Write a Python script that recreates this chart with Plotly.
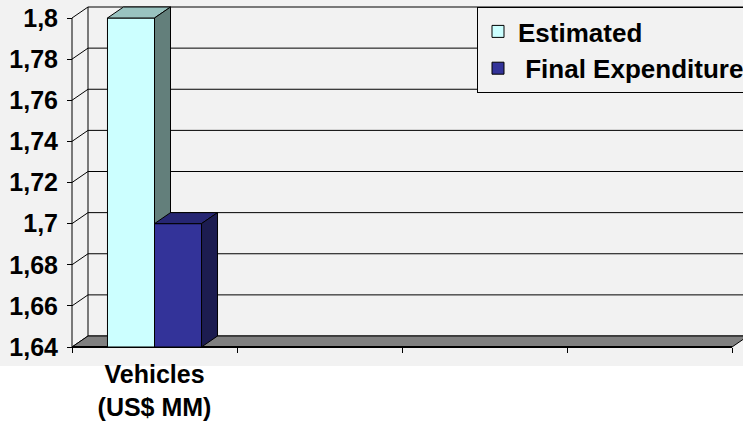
import plotly.graph_objects as go

# ---- data -------------------------------------------------------------
categories = ["Vehicles<br>(US$ MM)", "", "", ""]
series_names = ["Estimated", "\u00a0Final Expenditure"]
estimated = [1.80]
final_expenditure = [1.70]
y_tick_values = [1.64, 1.66, 1.68, 1.70, 1.72, 1.74, 1.76, 1.78, 1.80]
y_tick_labels = ["1,64", "1,66", "1,68", "1,7", "1,72", "1,74", "1,76", "1,78", "1,8"]

# ---- style / geometry ---------------------------------------------------
W, H = 743, 422
FONT = "Liberation Sans"
FLOOR = y_tick_values[0]
CEIL = y_tick_values[-1]

# pixel scale of the value axis and the category axis
X0_PX, FLOOR_PX, CEIL_PX = 72, 347, 18
PX_PER_CAT = 165
px_per_val = (FLOOR_PX - CEIL_PX) / (CEIL - FLOOR)

# plot area in pixels
LEFT_PX, RIGHT_PX, TOP_PX, BOTTOM_PX = 64, W, 3, 352
x_range = [(LEFT_PX - X0_PX) / PX_PER_CAT, (RIGHT_PX - X0_PX) / PX_PER_CAT]
y_range = [FLOOR - (BOTTOM_PX - FLOOR_PX) / px_per_val,
           FLOOR + (FLOOR_PX - TOP_PX) / px_per_val]

# 3-D depth offset (in data units)
DX = 16 / PX_PER_CAT
DY = 11 / px_per_val
BAR_W = 0.285

colors = {
    "Estimated": dict(front="#CCFFFF", top="#99C3C0", side="#637F7B"),
    "Final": dict(front="#333399", top="#262673", side="#1C1C50"),
}
n_cats = len(categories)
centers = [i + 0.5 for i in range(n_cats)]

fig = go.Figure()


def add_bar(name, values, offset, palette, xa, ya, showlegend=True):
    """Front face as a bar, plus its top and side faces as filled polygons."""
    xs = centers[:len(values)]
    fig.add_trace(go.Bar(
        x=xs, y=[v - FLOOR for v in values], base=[FLOOR] * len(values),
        width=[BAR_W] * len(values), offset=[offset] * len(values),
        name=name, showlegend=showlegend,
        marker=dict(color=palette["front"], line=dict(color="black", width=1)),
        xaxis=xa, yaxis=ya,
    ))
    for c, v in zip(xs, values):
        x0 = c + offset
        x1 = x0 + BAR_W
        top = dict(x=[x0, x1, x1 + DX, x0 + DX, x0], y=[v, v, v + DY, v + DY, v])
        side = dict(x=[x1, x1 + DX, x1 + DX, x1, x1],
                    y=[FLOOR, FLOOR + DY, v + DY, v, FLOOR])
        for poly, col in ((top, palette["top"]), (side, palette["side"])):
            fig.add_trace(go.Scatter(
                x=poly["x"], y=poly["y"], mode="lines", fill="toself",
                fillcolor=col, line=dict(color="black", width=1),
                showlegend=False, hoverinfo="skip", xaxis=xa, yaxis=ya,
            ))


add_bar(series_names[0], estimated, -BAR_W, colors["Estimated"], "x", "y")
add_bar(series_names[1], final_expenditure, 0.0, colors["Final"], "x2", "y2")

# ---- walls, floor and back grid --------------------------------------------
shapes = []
# chart area background
shapes.append(dict(type="rect", xref="paper", yref="paper", x0=0, x1=1,
                   y0=(H - 366) / H, y1=1, fillcolor="#F2F2F2",
                   line=dict(width=0), layer="below"))
far = x_range[1] + 1
line = dict(color="black", width=1)
for v in y_tick_values:
    # horizontal grid on the back wall
    shapes.append(dict(type="line", xref="x", yref="y", x0=DX, x1=far,
                       y0=v + DY, y1=v + DY, line=line, layer="below"))
    # diagonal from the front axis to the back wall
    shapes.append(dict(type="line", xref="x", yref="y", x0=0, x1=DX,
                       y0=v, y1=v + DY, line=line, layer="below"))
# back wall left edge
shapes.append(dict(type="line", xref="x", yref="y", x0=DX, x1=DX,
                   y0=FLOOR + DY, y1=CEIL + DY, line=line, layer="below"))
# front value axis line
shapes.append(dict(type="line", xref="x", yref="y", x0=0, x1=0,
                   y0=FLOOR, y1=CEIL, line=line, layer="below"))
# floor
shapes.append(dict(
    type="path", xref="x", yref="y",
    path=(f"M 0,{FLOOR} L {n_cats},{FLOOR} L {n_cats + DX},{FLOOR + DY} "
          f"L {DX},{FLOOR + DY} Z"),
    fillcolor="#808080", line=line, layer="below"))
shapes.append(dict(type="line", xref="x", yref="y", x0=0, x1=n_cats,
                   y0=FLOOR, y1=FLOOR, line=dict(color="black", width=2),
                   layer="below"))

tick_font = dict(family=FONT, size=25, color="black", weight="bold")

fig.update_layout(
    width=W, height=H,
    margin=dict(l=0, r=0, t=0, b=0, autoexpand=False),
    paper_bgcolor="white",
    plot_bgcolor="rgba(0,0,0,0)",
    shapes=shapes,
    barmode="overlay",
    showlegend=True,
    legend=dict(
        x=477 / W, y=1 - 7 / H, xanchor="left", yanchor="top",
        bgcolor="#F2F2F2", bordercolor="black", borderwidth=1,
        font=dict(family=FONT, size=26, color="black", weight="bold"),
        itemclick=False, tracegroupgap=0,
    ),
    xaxis=dict(
        domain=[LEFT_PX / W, RIGHT_PX / W], range=x_range,
        anchor="free", position=(H - FLOOR_PX) / H,
        showgrid=False, zeroline=False, showline=False,
        tickmode="array", tickvals=centers, ticktext=categories, ticks="",
        tickfont=dict(family=FONT, size=25, color="black", weight="bold"),
        ticklabelstandoff=10,
        minor=dict(tickmode="array", tickvals=list(range(n_cats + 1)),
                   ticks="outside", ticklen=5, tickcolor="black", tickwidth=1,
                   showgrid=False),
    ),
    yaxis=dict(
        domain=[(H - BOTTOM_PX) / H, (H - TOP_PX) / H], range=y_range,
        anchor="free", position=X0_PX / W,
        showgrid=False, zeroline=False, showline=False,
        tickmode="array", tickvals=y_tick_values, ticktext=y_tick_labels,
        ticks="outside", ticklen=5, tickcolor="black",
        tickfont=tick_font, ticklabelstandoff=4,
    ),
    xaxis2=dict(overlaying="x", matches="x", anchor="y2", visible=False),
    yaxis2=dict(overlaying="y", matches="y", anchor="x2", visible=False),
)

fig.write_html("out.html")
